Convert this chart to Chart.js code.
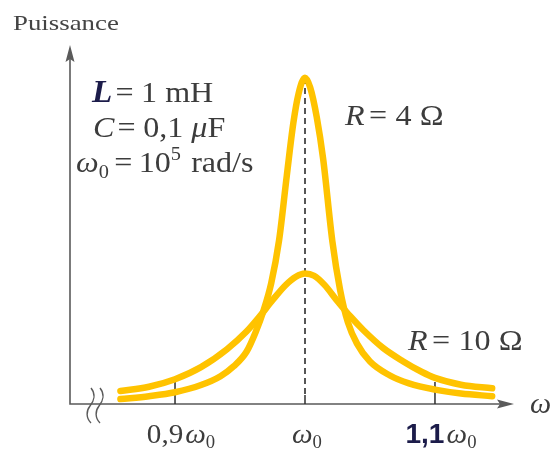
<!DOCTYPE html>
<html><head><meta charset="utf-8">
<script src="https://cdn.jsdelivr.net/npm/chart.js@4"></script>
<style>html,body{margin:0;padding:0;background:#fff}#wrap{width:553px;height:451px}</style>
</head><body><div id="wrap"><canvas id="c" width="553" height="451"></canvas></div>
<script>
// ---- data (ω in units of ω0, power in units where peak of R=4 is 100) ----
const omegaR4 = [0.858, 0.88, 0.90, 0.92, 0.935, 0.945, 0.955, 0.962, 0.968, 0.974, 0.98, 0.986, 0.991, 0.995, 1.0, 1.004, 1.009, 1.014, 1.021, 1.027, 1.033, 1.04, 1.05, 1.065, 1.08, 1.10, 1.12, 1.144];
const powerR4 = [1.5, 2.4, 3.6, 5.8, 8.5, 11.5, 16, 22, 28.5, 37, 50, 70, 86, 95, 100, 97, 88, 75, 50, 35, 25, 18.5, 13, 8.8, 6.3, 4.4, 3.2, 2.4];
const omegaR10 = [0.858, 0.88, 0.90, 0.92, 0.94, 0.955, 0.965, 0.975, 0.985, 0.993, 1.0, 1.007, 1.015, 1.025, 1.035, 1.045, 1.06, 1.075, 1.09, 1.10, 1.12, 1.144];
const powerR10 = [4.0, 5.3, 7.6, 11.3, 16.8, 22.2, 26.8, 31.8, 36.4, 39, 40, 39.3, 36.5, 31.5, 26.8, 22.6, 17.2, 13.2, 9.8, 8.0, 5.9, 4.8];
const tickValues = [0.9, 1.0, 1.1];
const tickLabels = ['0,9', '', '1,1'];
const seriesNames = ['R = 4 Ω', 'R = 10 Ω'];
const axisTitleY = 'Puissance';
const axisTitleX = 'ω';
const xMin = 0.8192, xMax = 1.1608, yMax = 110;

const SERIF = '"Liberation Serif", "Times New Roman", serif';
const GRAY = '#3c3c3c', NAVY = '#1c1c4a', AXIS = '#5a5a5a', YEL = '#FFC300';

function drawRuns(ctx, x, y, parts, align, sx) {
  sx = sx || 1;
  let w = 0;
  for (const p of parts) { ctx.font = p.f; w += (ctx.measureText(p.t).width + (p.g || 0)); }
  ctx.save();
  ctx.translate(x, y);
  ctx.scale(sx, 1);
  let cx = align === 'center' ? -w / 2 : 0;
  ctx.textBaseline = 'alphabetic';
  ctx.textAlign = 'left';
  for (const p of parts) {
    ctx.font = p.f; ctx.fillStyle = p.c || GRAY;
    ctx.fillText(p.t, cx, p.dy || 0);
    cx += ctx.measureText(p.t).width + (p.g || 0);
  }
  ctx.restore();
}

const decor = {
  id: 'decor',
  beforeDatasetsDraw(chart) {
    const { ctx, chartArea: a, scales: { x, y } } = chart;
    ctx.save();
    // axes
    ctx.strokeStyle = AXIS; ctx.fillStyle = AXIS; ctx.lineWidth = 1.6;
    ctx.beginPath();
    ctx.moveTo(a.left, a.top + 10); ctx.lineTo(a.left, a.bottom); ctx.lineTo(a.right - 10, a.bottom);
    ctx.stroke();
    ctx.beginPath(); // y arrow
    ctx.moveTo(a.left, a.top); ctx.lineTo(a.left - 4.5, a.top + 17); ctx.lineTo(a.left, a.top + 14); ctx.lineTo(a.left + 4.5, a.top + 17); ctx.closePath(); ctx.fill();
    ctx.beginPath(); // x arrow
    ctx.moveTo(a.right, a.bottom); ctx.lineTo(a.right - 17, a.bottom - 4.5); ctx.lineTo(a.right - 14, a.bottom); ctx.lineTo(a.right - 17, a.bottom + 4.5); ctx.closePath(); ctx.fill();
    // axis break marks
    ctx.lineWidth = 1.4;
    for (const bx of [90, 99]) {
      ctx.beginPath();
      ctx.moveTo(bx + 1, a.bottom - 16);
      ctx.bezierCurveTo(bx + 6, a.bottom - 10, bx + 4, a.bottom - 3, bx, a.bottom + 2);
      ctx.bezierCurveTo(bx - 4, a.bottom + 7, bx - 4, a.bottom + 14, bx + 1, a.bottom + 19);
      ctx.stroke();
    }
    // ticks
    ctx.strokeStyle = '#2e2e2e'; ctx.lineWidth = 1.5;
    for (const v of tickValues) {
      const px = x.getPixelForValue(v);
      ctx.beginPath();
      ctx.moveTo(px, a.bottom);
      ctx.lineTo(px, v === 1.0 ? a.bottom - 9 : a.bottom - 22);
      ctx.stroke();
    }
    // dashed line at ω0
    const px0 = x.getPixelForValue(1.0);
    ctx.setLineDash([6, 4]); ctx.lineWidth = 2; ctx.strokeStyle = '#555';
    ctx.beginPath(); ctx.moveTo(px0, a.bottom - 10); ctx.lineTo(px0, y.getPixelForValue(Math.max(...powerR4))); ctx.stroke();
    ctx.setLineDash([]);
    ctx.restore();
  },
  afterDraw(chart) {
    const { ctx, chartArea: a, scales: { x } } = chart;
    ctx.save();
    const fT = '28px ' + SERIF, fTI = 'italic 28px ' + SERIF, fTS = '18px ' + SERIF;
    const fR = '30px ' + SERIF, fI = 'italic 30px ' + SERIF, fS = '19px ' + SERIF;
    const SX = 1.07;
    // tick labels
    const ly = a.bottom + 39;
    drawRuns(ctx, x.getPixelForValue(tickValues[0]) + 6, ly, [
      { t: tickLabels[0], f: fT, c: GRAY, g: 2 }, { t: 'ω', f: fTI, c: GRAY }, { t: '0', f: fTS, c: GRAY, dy: 5 }], 'center', 1.04);
    drawRuns(ctx, x.getPixelForValue(tickValues[1]) + 2, ly, [
      { t: 'ω', f: fTI, c: GRAY }, { t: '0', f: fTS, c: GRAY, dy: 5 }], 'center', 1.04);
    drawRuns(ctx, x.getPixelForValue(tickValues[2]) + 6, ly, [
      { t: tickLabels[2], f: 'bold 27px "Liberation Sans", Arial, sans-serif', c: NAVY, g: 2 }, { t: 'ω', f: fTI, c: GRAY }, { t: '0', f: fTS, c: GRAY, dy: 5 }], 'center', 1.04);
    // axis titles
    drawRuns(ctx, 13, 30, [{ t: axisTitleY, f: '22px ' + SERIF, c: '#444' }], 'left', 1.22);
    drawRuns(ctx, a.right + 16, a.bottom + 9, [{ t: axisTitleX, f: fI, c: GRAY }], 'left');
    // parameter block
    drawRuns(ctx, 92, 102, [
      { t: 'L', f: 'italic bold 31px ' + SERIF, c: NAVY, g: 3 }, { t: '=', f: fR, g: 7 }, { t: '1 mH', f: fR }], 'left', SX);
    drawRuns(ctx, 93, 137, [
      { t: 'C', f: fI, g: 3 }, { t: '=', f: fR, g: 7 }, { t: '0,1 ', f: fR }, { t: 'μ', f: fI }, { t: 'F', f: fR }], 'left', SX);
    drawRuns(ctx, 76, 172, [
      { t: 'ω', f: fI }, { t: '0', f: fS, dy: 6, g: 5 }, { t: '=', f: fR, g: 6 }, { t: '10', f: fR }, { t: '5', f: fS, dy: -12, g: 2 }, { t: ' rad/s', f: fR }], 'left', SX);
    // series labels
    drawRuns(ctx, 345, 125, [{ t: 'R', f: fI, g: 4 }, { t: '=', f: fR, g: 8 }, { t: '4 Ω', f: fR }], 'left', SX);
    drawRuns(ctx, 408, 350, [{ t: 'R', f: fI, g: 4 }, { t: '=', f: fR, g: 8 }, { t: '10 Ω', f: fR }], 'left', SX);
    ctx.restore();
  }
};

new Chart(document.getElementById('c'), {
  type: 'line',
  data: {
    datasets: [
      { label: seriesNames[1], data: omegaR10.map((w, i) => ({ x: w, y: powerR10[i] })), borderColor: YEL, borderWidth: 6.5, pointRadius: 0, cubicInterpolationMode: 'monotone', borderCapStyle: 'round', borderJoinStyle: 'round', fill: false },
      { label: seriesNames[0], data: omegaR4.map((w, i) => ({ x: w, y: powerR4[i] })), borderColor: YEL, borderWidth: 6.5, pointRadius: 0, cubicInterpolationMode: 'monotone', borderCapStyle: 'round', borderJoinStyle: 'round', fill: false }
    ]
  },
  options: {
    responsive: false, animation: false, devicePixelRatio: 1,
    layout: { padding: { left: 70, right: 39, top: 45, bottom: 47 } },
    plugins: { legend: { display: false }, tooltip: { enabled: false }, title: { display: false } },
    scales: {
      x: { type: 'linear', min: xMin, max: xMax, display: false },
      y: { type: 'linear', min: 0, max: yMax, display: false }
    }
  },
  plugins: [decor]
});
</script>
</body></html>
